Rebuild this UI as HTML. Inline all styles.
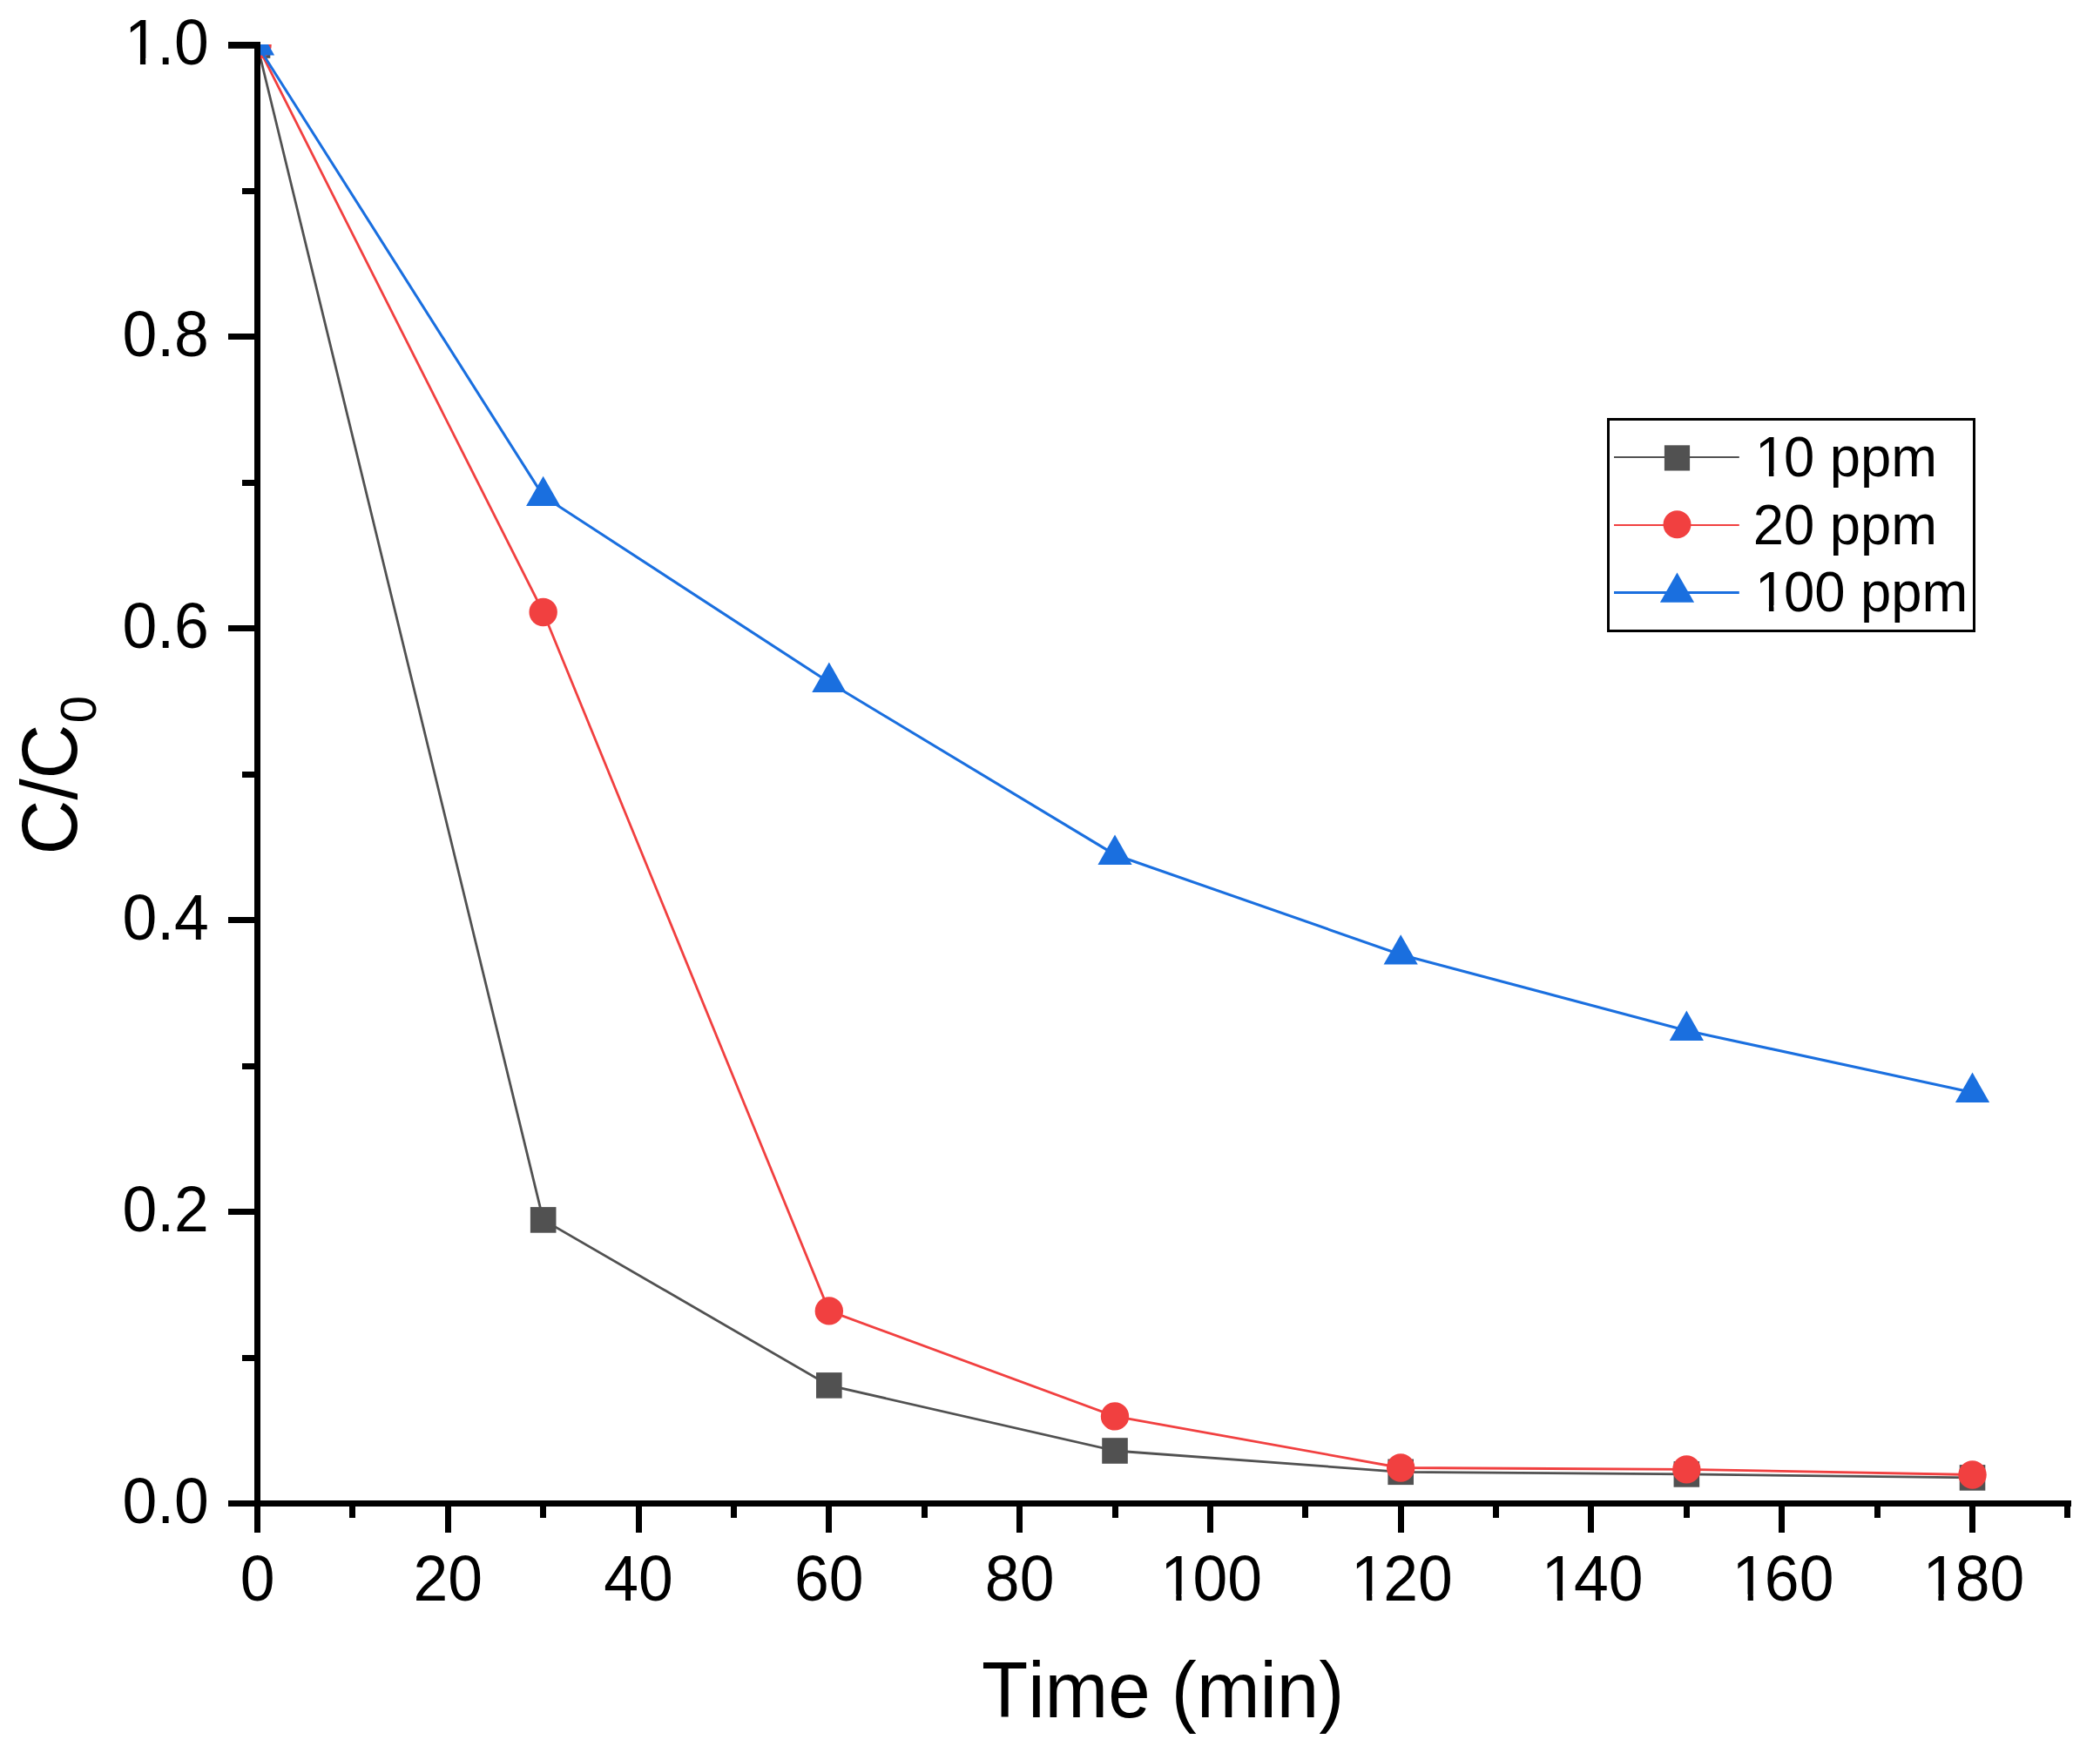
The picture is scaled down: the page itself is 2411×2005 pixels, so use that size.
<!DOCTYPE html><html><head><meta charset="utf-8"><title>C/C0 vs Time</title><style>html,body{margin:0;padding:0;background:#fff;}svg{display:block;}text{font-family:"Liberation Sans",Arial,sans-serif;fill:#000;font-kerning:none;}</style></head><body>
<svg width="2411" height="2005" viewBox="0 0 2411 2005">
<rect width="2411" height="2005" fill="#fff"/>
<defs><clipPath id="pc"><rect x="295.5" y="51" width="2080" height="1676"/></clipPath></defs>
<g clip-path="url(#pc)">
<polyline points="295.5,52.0 623.7,1400.9 951.8,1590.9 1280.0,1666.0 1608.2,1690.3 1936.3,1692.9 2264.5,1696.9" fill="none" stroke="#515151" stroke-width="2.8" stroke-linejoin="miter"/>
<rect x="280.70" y="37.20" width="29.6" height="29.6" fill="#515151"/>
<rect x="608.87" y="1386.10" width="29.6" height="29.6" fill="#515151"/>
<rect x="937.04" y="1576.10" width="29.6" height="29.6" fill="#515151"/>
<rect x="1265.21" y="1651.20" width="29.6" height="29.6" fill="#515151"/>
<rect x="1593.38" y="1675.50" width="29.6" height="29.6" fill="#515151"/>
<rect x="1921.55" y="1678.10" width="29.6" height="29.6" fill="#515151"/>
<rect x="2249.72" y="1682.10" width="29.6" height="29.6" fill="#515151"/>
<polyline points="295.5,52.0 623.7,703.0 951.8,1505.4 1280.0,1626.4 1608.2,1685.5 1936.3,1687.4 2264.5,1693.5" fill="none" stroke="#F14040" stroke-width="2.8" stroke-linejoin="miter"/>
<circle cx="295.50" cy="52.00" r="16.2" fill="#F14040"/>
<circle cx="623.67" cy="703.00" r="16.2" fill="#F14040"/>
<circle cx="951.84" cy="1505.40" r="16.2" fill="#F14040"/>
<circle cx="1280.01" cy="1626.40" r="16.2" fill="#F14040"/>
<circle cx="1608.18" cy="1685.50" r="16.2" fill="#F14040"/>
<circle cx="1936.35" cy="1687.40" r="16.2" fill="#F14040"/>
<circle cx="2264.52" cy="1693.50" r="16.2" fill="#F14040"/>
<polyline points="295.5,52.0 623.7,569.7 951.8,783.5 1280.0,981.5 1608.2,1096.2 1936.3,1183.5 2264.5,1254.5" fill="none" stroke="#1A6FDF" stroke-width="3.1" stroke-linejoin="miter"/>
<polygon points="295.50,29.00 275.90,63.40 315.10,63.40" fill="#1A6FDF"/>
<polygon points="623.67,546.70 604.07,581.10 643.27,581.10" fill="#1A6FDF"/>
<polygon points="951.84,760.50 932.24,794.90 971.44,794.90" fill="#1A6FDF"/>
<polygon points="1280.01,958.50 1260.41,992.90 1299.61,992.90" fill="#1A6FDF"/>
<polygon points="1608.18,1073.20 1588.58,1107.60 1627.78,1107.60" fill="#1A6FDF"/>
<polygon points="1936.35,1160.50 1916.75,1194.90 1955.95,1194.90" fill="#1A6FDF"/>
<polygon points="2264.52,1231.50 2244.92,1265.90 2284.12,1265.90" fill="#1A6FDF"/>
</g>
<g fill="#000">
<rect x="292" y="48" width="7" height="1682"/>
<rect x="292" y="1723" width="2086" height="7"/>
<rect x="262" y="1723" width="30" height="7"/>
<rect x="262" y="1388" width="30" height="7"/>
<rect x="262" y="1053" width="30" height="7"/>
<rect x="262" y="718" width="30" height="7"/>
<rect x="262" y="383" width="30" height="7"/>
<rect x="262" y="48" width="30" height="7.8"/>
<rect x="278" y="1556" width="14" height="7"/>
<rect x="278" y="1221" width="14" height="7"/>
<rect x="278" y="886" width="14" height="7"/>
<rect x="278" y="551" width="14" height="7"/>
<rect x="278" y="216" width="14" height="7"/>
<rect x="292" y="1730" width="7" height="30"/>
<rect x="511" y="1730" width="7" height="30"/>
<rect x="730" y="1730" width="7" height="30"/>
<rect x="948" y="1730" width="7" height="30"/>
<rect x="1167" y="1730" width="7" height="30"/>
<rect x="1386" y="1730" width="7" height="30"/>
<rect x="1605" y="1730" width="7" height="30"/>
<rect x="1823" y="1730" width="7" height="30"/>
<rect x="2042" y="1730" width="7" height="30"/>
<rect x="2261" y="1730" width="7" height="30"/>
<rect x="401" y="1730" width="7" height="13"/>
<rect x="620" y="1730" width="7" height="13"/>
<rect x="839" y="1730" width="7" height="13"/>
<rect x="1058" y="1730" width="7" height="13"/>
<rect x="1277" y="1730" width="7" height="13"/>
<rect x="1495" y="1730" width="7" height="13"/>
<rect x="1714" y="1730" width="7" height="13"/>
<rect x="1933" y="1730" width="7" height="13"/>
<rect x="2152" y="1730" width="7" height="13"/>
<rect x="2370" y="1730" width="7" height="13"/>
</g>
<g transform="translate(239.80,1748.90) scale(1,1.03)"><text x="-99.39" font-size="71.5">0.0</text></g>
<g transform="translate(239.80,1414.00) scale(1,1.03)"><text x="-99.39" font-size="71.5">0.2</text></g>
<g transform="translate(239.80,1079.10) scale(1,1.03)"><text x="-99.39" font-size="71.5">0.4</text></g>
<g transform="translate(239.80,744.20) scale(1,1.03)"><text x="-99.39" font-size="71.5">0.6</text></g>
<g transform="translate(239.80,409.30) scale(1,1.03)"><text x="-99.39" font-size="71.5">0.8</text></g>
<g transform="translate(239.80,74.40) scale(1,1.03)"><text x="-99.39" font-size="71.5"><tspan dx="2.51">1</tspan><tspan dx="-2.51">.</tspan>0</text><rect x="-92.69" y="-7.18" width="13.83" height="8.38" fill="#fff"/><rect x="-72.62" y="-7.18" width="13.27" height="8.38" fill="#fff"/></g>
<g transform="translate(295.50,1838.20) scale(1,1.03)"><text x="-19.88" font-size="71.5">0</text></g>
<g transform="translate(514.28,1838.20) scale(1,1.03)"><text x="-39.76" font-size="71.5">20</text></g>
<g transform="translate(733.06,1838.20) scale(1,1.03)"><text x="-39.76" font-size="71.5">40</text></g>
<g transform="translate(951.84,1838.20) scale(1,1.03)"><text x="-39.76" font-size="71.5">60</text></g>
<g transform="translate(1170.62,1838.20) scale(1,1.03)"><text x="-39.76" font-size="71.5">80</text></g>
<g transform="translate(1389.40,1838.20) scale(1,1.03)"><text x="-59.65" font-size="71.5"><tspan dx="2.51">1</tspan><tspan dx="-2.51">0</tspan>0</text><rect x="-52.94" y="-7.18" width="13.83" height="8.38" fill="#fff"/><rect x="-32.87" y="-7.18" width="13.27" height="8.38" fill="#fff"/></g>
<g transform="translate(1608.18,1838.20) scale(1,1.03)"><text x="-59.65" font-size="71.5"><tspan dx="2.51">1</tspan><tspan dx="-2.51">2</tspan>0</text><rect x="-52.94" y="-7.18" width="13.83" height="8.38" fill="#fff"/><rect x="-32.87" y="-7.18" width="13.27" height="8.38" fill="#fff"/></g>
<g transform="translate(1826.96,1838.20) scale(1,1.03)"><text x="-59.65" font-size="71.5"><tspan dx="2.51">1</tspan><tspan dx="-2.51">4</tspan>0</text><rect x="-52.94" y="-7.18" width="13.83" height="8.38" fill="#fff"/><rect x="-32.87" y="-7.18" width="13.27" height="8.38" fill="#fff"/></g>
<g transform="translate(2045.74,1838.20) scale(1,1.03)"><text x="-59.65" font-size="71.5"><tspan dx="2.51">1</tspan><tspan dx="-2.51">6</tspan>0</text><rect x="-52.94" y="-7.18" width="13.83" height="8.38" fill="#fff"/><rect x="-32.87" y="-7.18" width="13.27" height="8.38" fill="#fff"/></g>
<g transform="translate(2264.52,1838.20) scale(1,1.03)"><text x="-59.65" font-size="71.5"><tspan dx="2.51">1</tspan><tspan dx="-2.51">8</tspan>0</text><rect x="-52.94" y="-7.18" width="13.83" height="8.38" fill="#fff"/><rect x="-32.87" y="-7.18" width="13.27" height="8.38" fill="#fff"/></g>
<text transform="translate(1126.9,1972) scale(1,1.035)" font-size="87.2">Time (min)</text>
<text transform="translate(87.6,981.4) rotate(-90) scale(1,1.045)" font-size="87">C/C</text>
<text transform="translate(110.3,830.2) rotate(-90) scale(1,1.04)" font-size="56">0</text>
<rect x="1846.5" y="481.5" width="420" height="243" fill="none" stroke="#000" stroke-width="3"/>
<line x1="1853" y1="525" x2="1996.8" y2="525" stroke="#515151" stroke-width="2.0"/>
<rect x="1910.90" y="511.30" width="29.2" height="29.2" fill="#515151"/>
<g transform="translate(2012.70,547.10) scale(1,1.035)"><text x="0.00" font-size="63.4"><tspan dx="2.23">1</tspan><tspan dx="-2.23">0</tspan> ppm</text><rect x="5.94" y="-6.57" width="12.26" height="7.77" fill="#fff"/><rect x="23.74" y="-6.57" width="11.76" height="7.77" fill="#fff"/></g>
<line x1="1853" y1="603" x2="1996.8" y2="603" stroke="#F14040" stroke-width="2.0"/>
<circle cx="1925.50" cy="602.30" r="16.0" fill="#F14040"/>
<g transform="translate(2012.70,624.70) scale(1,1.035)"><text x="0.00" font-size="63.4">20 ppm</text></g>
<line x1="1853" y1="680.4" x2="1996.8" y2="680.4" stroke="#1A6FDF" stroke-width="3.0"/>
<polygon points="1925.50,657.40 1905.90,691.80 1945.10,691.80" fill="#1A6FDF"/>
<g transform="translate(2012.70,701.80) scale(1,1.035)"><text x="0.00" font-size="63.4"><tspan dx="2.23">1</tspan><tspan dx="-2.23">0</tspan>0 ppm</text><rect x="5.94" y="-6.57" width="12.26" height="7.77" fill="#fff"/><rect x="23.74" y="-6.57" width="11.76" height="7.77" fill="#fff"/></g>
</svg></body></html>
